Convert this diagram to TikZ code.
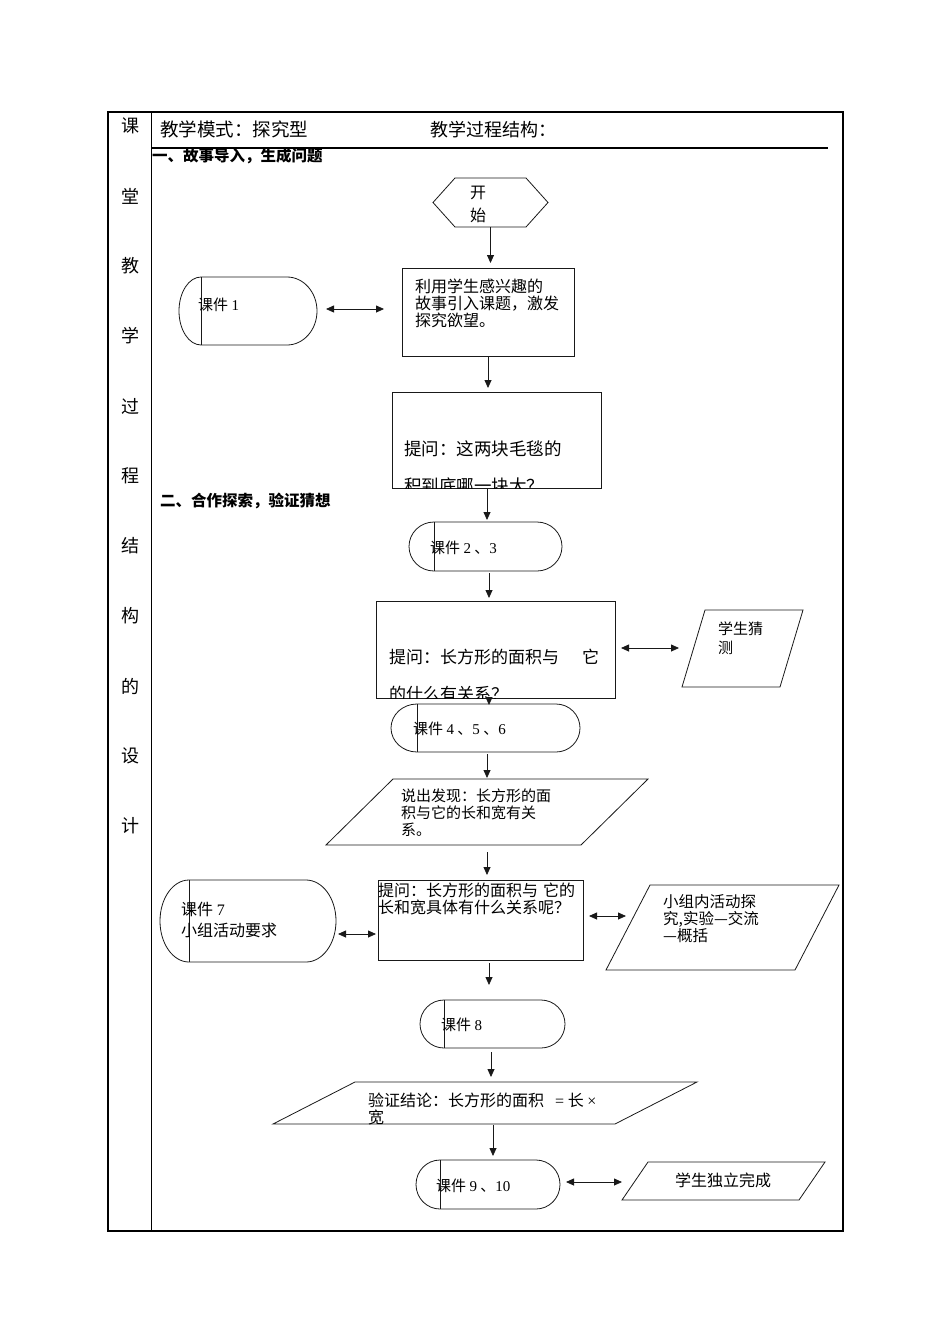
\documentclass[tikz,border=0pt]{standalone}
\usepackage{fontspec}
\setmainfont{Noto Sans CJK SC}
\newfontfamily\latin{Liberation Serif}
\usetikzlibrary{arrows.meta, calc}

\tikzset{
  line/.style={draw=black!90, line width=0.8pt},
  frame/.style={draw=none, inner sep=0pt, outer sep=0pt},
  boxrect/.style={line, rectangle, inner sep=0pt, outer sep=0pt},
  flow/.style={line, -{Triangle[length=8pt,width=7pt]}},
  both/.style={line, {Triangle[length=8pt,width=7pt]}-{Triangle[length=8pt,width=7pt]}},
  txt/.style={inner sep=0pt, anchor=base west, align=left},
}

% rounded terminal with an inner bar: name, cx, cy, width, height, left cap, right cap
\newcommand{\kejian}[7]{%
  \node[frame, minimum width=#4pt, minimum height=#5pt] (#1) at (#2,-#3) {};
  \draw[line] ($(#1.north west)+(#6,0)$) -- ($(#1.north east)+(-#7,0)$)
    arc[start angle=90, end angle=-90, x radius=#7pt, y radius=#5pt/2]
    -- ($(#1.south west)+(#6,0)$)
    arc[start angle=270, end angle=90, x radius=#6pt, y radius=#5pt/2] -- cycle;
  \draw[line] ($(#1.north west)+(#6,0)$) -- ($(#1.south west)+(#6,0)$);
}
% slanted data box: name, cx, cy, width, height, slant
\newcommand{\slantbox}[6]{%
  \node[frame, minimum width=#4pt, minimum height=#5pt] (#1) at (#2,-#3) {};
  \draw[line] ($(#1.north west)+(#6,0)$) -- (#1.north east)
    -- ($(#1.south east)+(-#6,0)$) -- (#1.south west) -- cycle;
}

\begin{document}
\begin{tikzpicture}[x=1pt, y=1pt]
  \useasboundingbox (0,0) rectangle (950,-1344);

  % Table frame
  \draw[line width=1.3pt] (108,-112) rectangle (843,-1231);
  \draw[line width=1pt] (151,-112) -- (151,-1231);
  \draw[line width=1.8pt] (151,-148) -- (828,-148);

  % Left column
  \foreach \c [count=\i] in {课,堂,教,学,过,程,结,构,的,设,计}
    \node[inner sep=0pt, font=\fontsize{18}{18}\selectfont] (col\i) at (130,{-126-70*(\i-1)}) {\c};

  % Header
  \node[txt, font=\fontsize{18.5}{18.5}\selectfont] (mode) at (160,-136) {教学模式：探究型};
  \node[txt, font=\fontsize{18}{18}\selectfont] (struct) at (430,-136) {教学过程结构：};
  \node[txt, font=\fontsize{15.5}{15.5}\selectfont\bfseries] (part1) at (152,-161) {一、故事导入，生成问题};
  \node[txt, font=\fontsize{15.5}{15.5}\selectfont\bfseries] (part2) at (160,-506) {二、合作探索，验证猜想};

  % Start
  \node[frame, minimum width=115pt, minimum height=49pt] (start) at (490.5,-202.5) {};
  \draw[line] (start.west) -- ($(start.north west)+(22,0)$) -- ($(start.north east)+(-22,0)$)
    -- (start.east) -- ($(start.south east)+(-22,0)$) -- ($(start.south west)+(22,0)$) -- cycle;
  \node[inner sep=0pt, align=center, font=\fontsize{16}{23}\selectfont] (starttxt) at (478,-204.5) {开\\始};

  % Story
  \node[boxrect, minimum width=172pt, minimum height=88pt] (box1) at (488,-312) {};
  \node[txt, font=\fontsize{16}{17}\selectfont] (box1txt) at (415,-326)
    {利用学生感兴趣的\\故事引入课题，激发\\探究欲望。};
  \kejian{term1}{248}{311}{138}{68}{22}{30}
  \node[txt, font=\fontsize{15}{15}\selectfont] (term1txt) at (198,-310) {课件 {\latin 1}};

  % Question 1
  \node[boxrect, minimum width=209pt, minimum height=96pt] (box2) at (496.5,-440) {};
  \begin{scope}
    \clip (box2.north west) rectangle (box2.south east);
    \node[txt, font=\fontsize{17.5}{37}\selectfont] (box2txt) at (404,-492)
      {提问：这两块毛毯的\\积到底哪一块大？};
  \end{scope}

  \kejian{term23}{485.5}{546.5}{153}{49}{25}{25}
  \node[txt, font=\fontsize{15}{15}\selectfont] (term23txt) at (430,-553) {课件 {\latin 2} 、{\latin 3}};

  % Question 2
  \node[boxrect, minimum width=239pt, minimum height=97pt] (box3) at (495.5,-649.5) {};
  \begin{scope}
    \clip (box3.north west) rectangle (box3.south east);
    \node[txt, font=\fontsize{17}{37}\selectfont] (box3txt) at (389,-700.5)
      {提问：长方形的面积与\hspace{23pt}它\\的什么有关系？};
  \end{scope}
  \slantbox{para3}{742.5}{648.5}{121}{77}{23}
  \node[txt, font=\fontsize{15}{19}\selectfont] (para3txt) at (718,-653) {学生猜\\测};

  \kejian{term456}{485.5}{728}{189}{48}{26}{24}
  \node[txt, font=\fontsize{15}{15}\selectfont] (term456txt) at (413,-734) {课件 {\latin 4} 、{\latin 5} 、{\latin 6}};

  % Finding
  \slantbox{para1}{487}{812}{322}{66}{67}
  \node[txt, font=\fontsize{15}{17}\selectfont] (para1txt) at (401,-835)
    {说出发现：长方形的面\\积与它的长和宽有关\\系。};

  % Question 3
  \node[boxrect, minimum width=205pt, minimum height=80pt] (box4) at (480.5,-920) {};
  \node[txt, font=\fontsize{16}{17}\selectfont] (box4txt) at (378,-913)
    {提问：长方形的面积与\hspace{5pt}它的\\长和宽具体有什么关系呢？};
  \kejian{term7}{248}{921}{176}{82}{29}{30}
  \node[txt, font=\fontsize{16}{21}\selectfont] (term7txt) at (181,-936) {课件 {\latin 7}\\小组活动要求};
  \slantbox{para4}{722.5}{927.5}{233}{85}{44}
  \node[txt, font=\fontsize{15.5}{17}\selectfont] (para4txt) at (663,-941)
    {小组内活动探\\究,实验—交流\\—概括};

  \kejian{term8}{492.5}{1024}{145}{48}{24}{24}
  \node[txt, font=\fontsize{15}{15}\selectfont] (term8txt) at (441,-1030) {课件 {\latin 8}};

  % Conclusion
  \slantbox{para2}{485}{1103}{424}{42}{82}
  \node[txt, font=\fontsize{16}{17}\selectfont] (para2txt) at (368,-1123)
    {验证结论：长方形的面积\hspace{11pt}{\latin =} 长 {\latin ×}\\宽};

  \kejian{term910}{488}{1184.5}{144}{49}{24}{24}
  \node[txt, font=\fontsize{15}{15}\selectfont] (term910txt) at (436,-1191) {课件 {\latin 9} 、{\latin 10}};
  \slantbox{para5}{723.5}{1181}{203}{38}{26}
  \node[inner sep=0pt, font=\fontsize{16}{16}\selectfont] (para5txt) at (723,-1180) {学生独立完成};

  % Main flow
  \draw[flow, shorten >=5pt] (start.south) -- (start.south |- box1.north);
  \draw[flow, shorten >=4pt] (box1.south) -- (box1.south |- box2.north);
  \draw[flow, shorten >=2pt] ([xshift=-9.5pt]box2.south) -- ([xshift=-9.5pt]box2.south |- term23.north);
  \draw[flow, shorten <=2pt, shorten >=3pt] ([xshift=3.5pt]term23.south) -- ([xshift=3.5pt]term23.south |- box3.north);
  \draw[flow, shorten >=-1pt] ([xshift=-6.5pt]box3.south) -- ([xshift=-6.5pt]box3.south |- term456.north);
  \draw[flow, shorten <=2pt, shorten >=1pt] ([xshift=1.5pt]term456.south) -- ([xshift=1.5pt]term456.south |- para1.north);
  \draw[flow, shorten <=7pt, shorten >=5pt] (para1.south) -- (para1.south |- box4.north);
  \draw[flow, shorten <=3pt, shorten >=15pt] ([xshift=8.5pt]box4.south) -- ([xshift=8.5pt]box4.south |- term8.north);
  \draw[flow, shorten <=4pt, shorten >=5pt] ([xshift=-1.5pt]term8.south) -- ([xshift=-1.5pt]term8.south |- para2.north);
  \draw[flow, shorten <=1pt, shorten >=4pt] ([xshift=8pt]para2.south) -- ([xshift=8pt]para2.south |- term910.north);

  % Side links
  \draw[both, shorten <=9pt, shorten >=18pt] ([yshift=2pt]term1.east) -- ([yshift=2pt]term1.east -| box1.west);
  \draw[both, shorten <=6pt, shorten >=3pt] ([yshift=1.5pt]box3.east) -- ([yshift=1.5pt]box3.east -| para3.west);
  \draw[both, shorten <=2pt, shorten >=2pt] ([yshift=-13pt]term7.east) -- ([yshift=-13pt]term7.east -| box4.west);
  \draw[both, shorten <=6pt] ([yshift=4pt]box4.east) -- ($(box4.east -| para4.west)+(20,4)$);
  \draw[both, shorten <=6pt] ([yshift=2.5pt]term910.east) -- ([yshift=2.5pt]term910.east -| para5.west);
\end{tikzpicture}
\end{document}
